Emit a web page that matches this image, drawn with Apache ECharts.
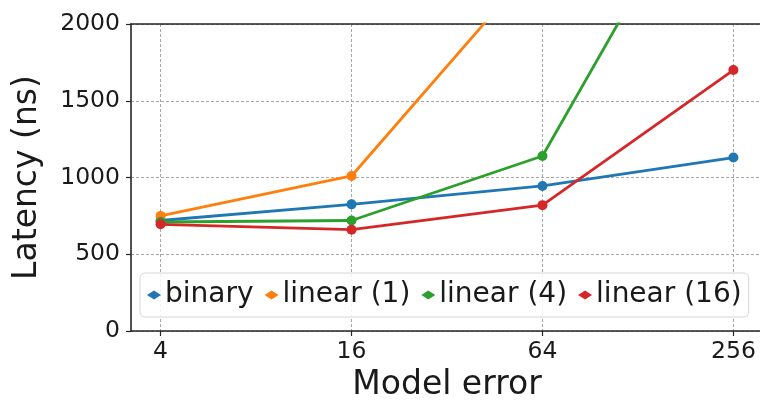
<!DOCTYPE html>
<html>
<head>
<meta charset="utf-8">
<script src="https://cdn.jsdelivr.net/npm/echarts@6/dist/echarts.min.js"></script>
<style>
  html, body { margin: 0; padding: 0; background: #ffffff; }
  #chart { width: 760px; height: 404px; }
</style>
</head>
<body>
<div id="chart"></div>
<script>
// ---- data ----
const modelError = [4, 16, 64, 256];
const binary   = [720, 825, 945, 1130];
const linear1  = [750, 1010, 2440, 5200];
const linear4  = [710, 720, 1140, 3320];
const linear16 = [695, 660, 820, 1700];
const yTicks = [0, 500, 1000, 1500, 2000];

const seriesNames = ['binary', 'linear (1)', 'linear (4)', 'linear (16)'];
const seriesValues = [binary, linear1, linear4, linear16];
const colors = ['#1f77b4', '#ff7f0e', '#2ca02c', '#d62728'];

const FONT = 'DejaVu Sans';
const spineColor = '#262626';
const gridLine = { show: true, lineStyle: { color: '#a8a8a8', width: 1, type: [3, 2] } };

const chart = echarts.init(document.getElementById('chart'), null, { renderer: 'canvas' });

const series = seriesNames.map((name, i) => ({
  name: name,
  type: 'line',
  data: modelError.map((x, j) => [x, seriesValues[i][j]]),
  symbol: 'circle',
  symbolSize: 10,
  clip: true,
  lineStyle: { width: 2.8, color: colors[i] },
  itemStyle: { color: colors[i] },
  z: 2 + i,
  animation: false
}));

chart.setOption({
  backgroundColor: '#ffffff',
  animation: false,
  textStyle: { fontFamily: FONT },
  grid: { left: 131, width: 632, top: 24, bottom: 73, containLabel: false, outerBoundsMode: 'none' },
  legend: {
    data: seriesNames,
    left: 140,
    top: 273,
    orient: 'horizontal',
    icon: 'diamond',
    itemWidth: 14,
    itemHeight: 9,
    itemGap: 11,
    padding: [7, 7],
    backgroundColor: 'rgba(255,255,255,0.85)',
    borderColor: '#d6d6d6',
    borderWidth: 1,
    borderRadius: 5,
    textStyle: { fontFamily: FONT, fontSize: 28, color: '#1a1a1a', lineHeight: 30, padding: [0, 0, 0, -1] }
  },
  xAxis: [{
    type: 'log',
    logBase: 4,
    min: 4 / Math.pow(4, 0.155),
    max: 256 * Math.pow(4, 0.155),
    name: 'Model error',
    nameLocation: 'middle',
    nameGap: 37,
    nameTextStyle: { fontFamily: FONT, fontSize: 33, color: '#1a1a1a' },
    axisLine: { show: true, lineStyle: { color: spineColor, width: 1.6 } },
    axisTick: { show: true, inside: false, length: 5, customValues: modelError, lineStyle: { color: spineColor, width: 1.2 } },
    axisLabel: { show: true, customValues: modelError, margin: 9, fontFamily: FONT, fontSize: 23.5, color: '#1a1a1a', formatter: v => String(Math.round(v)) },
    splitLine: gridLine,
    minorTick: { show: false },
    minorSplitLine: { show: false }
  }, {
    type: 'value', position: 'top', min: 0, max: 1,
    axisLine: { show: true, onZero: false, lineStyle: { color: spineColor, width: 1.6 } },
    axisTick: { show: false }, axisLabel: { show: false }, splitLine: { show: false }
  }],
  yAxis: [{
    type: 'value',
    min: yTicks[0],
    max: yTicks[yTicks.length - 1],
    interval: yTicks[1] - yTicks[0],
    name: 'Latency (ns)',
    nameLocation: 'middle',
    nameGap: 87,
    nameRotate: 90,
    nameTextStyle: { fontFamily: FONT, fontSize: 33, color: '#1a1a1a' },
    axisLine: { show: true, onZero: false, lineStyle: { color: spineColor, width: 1.6 } },
    axisTick: { show: true, inside: false, length: 5, lineStyle: { color: spineColor, width: 1.2 } },
    axisLabel: { margin: 11, fontFamily: FONT, fontSize: 23.5, color: '#1a1a1a', formatter: v => String(v) },
    splitLine: gridLine
  }, {
    type: 'value', position: 'right', min: 0, max: 1,
    axisLine: { show: true, onZero: false, lineStyle: { color: spineColor, width: 1.6 } },
    axisTick: { show: false }, axisLabel: { show: false }, splitLine: { show: false }
  }],
  series: series
});
</script>
</body>
</html>
